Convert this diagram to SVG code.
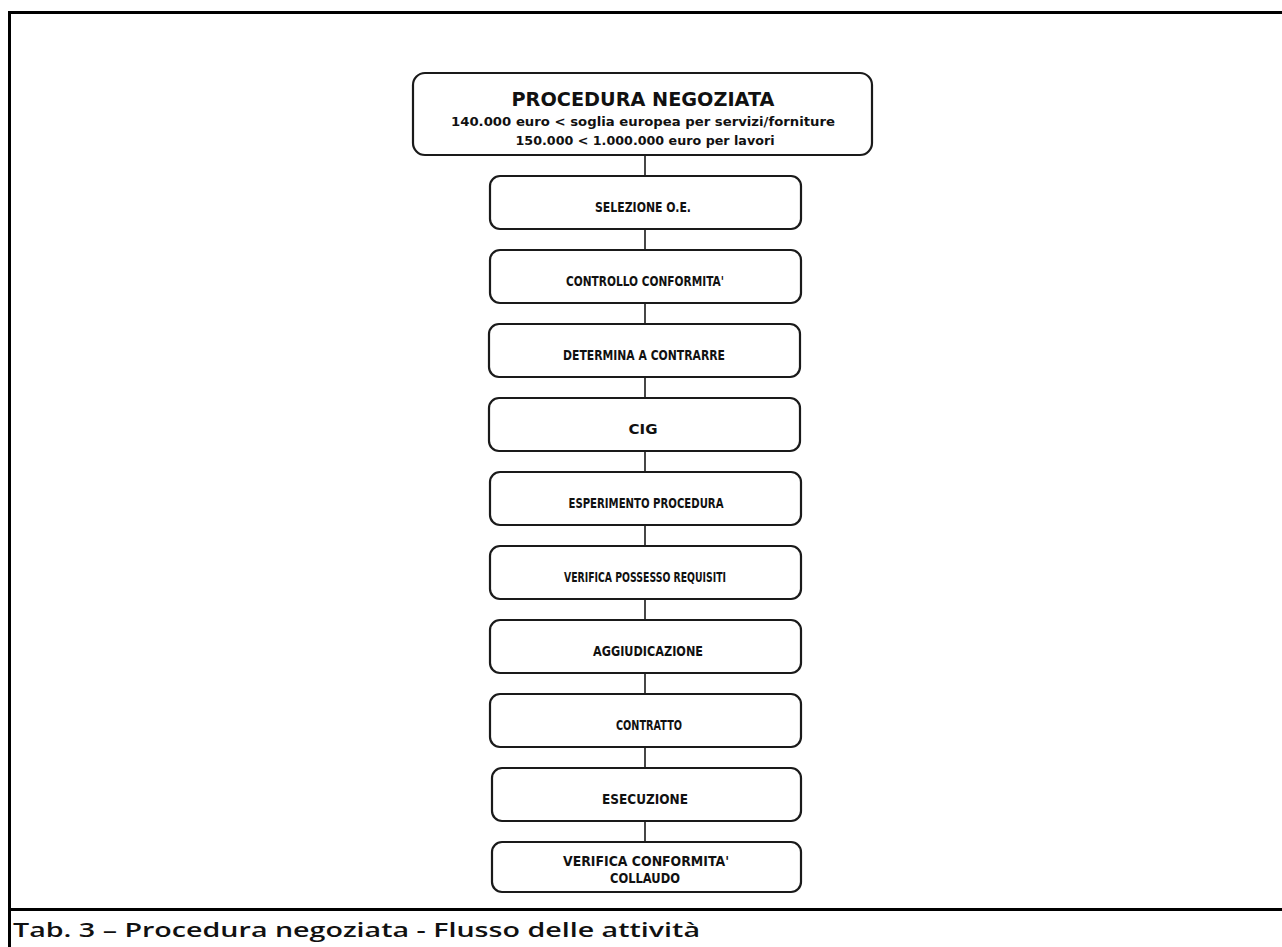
<svg xmlns="http://www.w3.org/2000/svg" width="1282" height="947" viewBox="0 0 1282 947">
<style>
.frame{stroke:#000;stroke-width:3;fill:none}
.box{fill:#fff;stroke:#1a1a1a;stroke-width:2.2}
.conn{stroke:#1a1a1a;stroke-width:1.6;fill:none}
.lbl{font-family:"DejaVu Sans","Liberation Sans",sans-serif;font-weight:bold;font-size:13.5px;fill:#111;text-anchor:middle}
.title{font-family:"DejaVu Sans","Liberation Sans",sans-serif;font-weight:bold;font-size:20px;fill:#111;text-anchor:middle}
.sub{font-family:"DejaVu Sans","Liberation Sans",sans-serif;font-weight:bold;font-size:12.5px;fill:#111;text-anchor:middle}
.cap{font-family:"Open Sans","DejaVu Sans",sans-serif;font-weight:600;font-size:20px;fill:#111}
</style>
<rect width="1282" height="947" fill="#fff"/>
<g id="frame">
<path class="frame" d="M9.5,947 V12.5 H1282"/>
<path class="frame" d="M8,909.5 H1282"/>
</g>
<g id="connectors">
<path class="conn" d="M645,155 V176 M645,229 V250 M645,303 V324 M645,377 V398 M645,451 V472 M645,525 V546 M645,599 V620 M645,673 V694 M645,747 V768 M645,821 V842"/>
</g>
<g id="n0"><rect class="box" x="413" y="73" width="459" height="82" rx="12"/>
<text class="title" x="643" y="106" textLength="263" lengthAdjust="spacingAndGlyphs">PROCEDURA NEGOZIATA</text>
<text class="sub" x="643" y="126" textLength="384" lengthAdjust="spacingAndGlyphs">140.000 euro &lt; soglia europea per servizi/forniture</text>
<text class="sub" x="645" y="145" textLength="259" lengthAdjust="spacingAndGlyphs">150.000 &lt; 1.000.000 euro per lavori</text></g>
<g id="n1"><rect class="box" x="490" y="176" width="311" height="53" rx="10"/><text class="lbl" x="643" y="212" textLength="96" lengthAdjust="spacingAndGlyphs">SELEZIONE O.E.</text></g>
<g id="n2"><rect class="box" x="490" y="250" width="311" height="53" rx="10"/><text class="lbl" x="645" y="286" textLength="158" lengthAdjust="spacingAndGlyphs">CONTROLLO CONFORMITA'</text></g>
<g id="n3"><rect class="box" x="489" y="324" width="311" height="53" rx="10"/><text class="lbl" x="644" y="360" textLength="162" lengthAdjust="spacingAndGlyphs">DETERMINA A CONTRARRE</text></g>
<g id="n4"><rect class="box" x="489" y="398" width="311" height="53" rx="10"/><text class="lbl" x="643" y="434" textLength="29" lengthAdjust="spacingAndGlyphs">CIG</text></g>
<g id="n5"><rect class="box" x="490" y="472" width="311" height="53" rx="10"/><text class="lbl" x="646" y="508" textLength="155" lengthAdjust="spacingAndGlyphs">ESPERIMENTO PROCEDURA</text></g>
<g id="n6"><rect class="box" x="490" y="546" width="311" height="53" rx="10"/><text class="lbl" x="645" y="582" textLength="162" lengthAdjust="spacingAndGlyphs">VERIFICA POSSESSO REQUISITI</text></g>
<g id="n7"><rect class="box" x="490" y="620" width="311" height="53" rx="10"/><text class="lbl" x="648" y="656" textLength="110" lengthAdjust="spacingAndGlyphs">AGGIUDICAZIONE</text></g>
<g id="n8"><rect class="box" x="490" y="694" width="311" height="53" rx="10"/><text class="lbl" x="649" y="730" textLength="66" lengthAdjust="spacingAndGlyphs">CONTRATTO</text></g>
<g id="n9"><rect class="box" x="492" y="768" width="309" height="53" rx="10"/><text class="lbl" x="645" y="804" textLength="86" lengthAdjust="spacingAndGlyphs">ESECUZIONE</text></g>
<g id="n10"><rect class="box" x="492" y="842" width="309" height="50" rx="10"/>
<text class="lbl" x="646" y="866" textLength="166" lengthAdjust="spacingAndGlyphs">VERIFICA CONFORMITA'</text>
<text class="lbl" x="645" y="883" textLength="70" lengthAdjust="spacingAndGlyphs">COLLAUDO</text></g>
<g id="caption"><text class="cap" x="13" y="937" textLength="687" lengthAdjust="spacingAndGlyphs">Tab. 3 – Procedura negoziata - Flusso delle attività</text></g>
</svg>
